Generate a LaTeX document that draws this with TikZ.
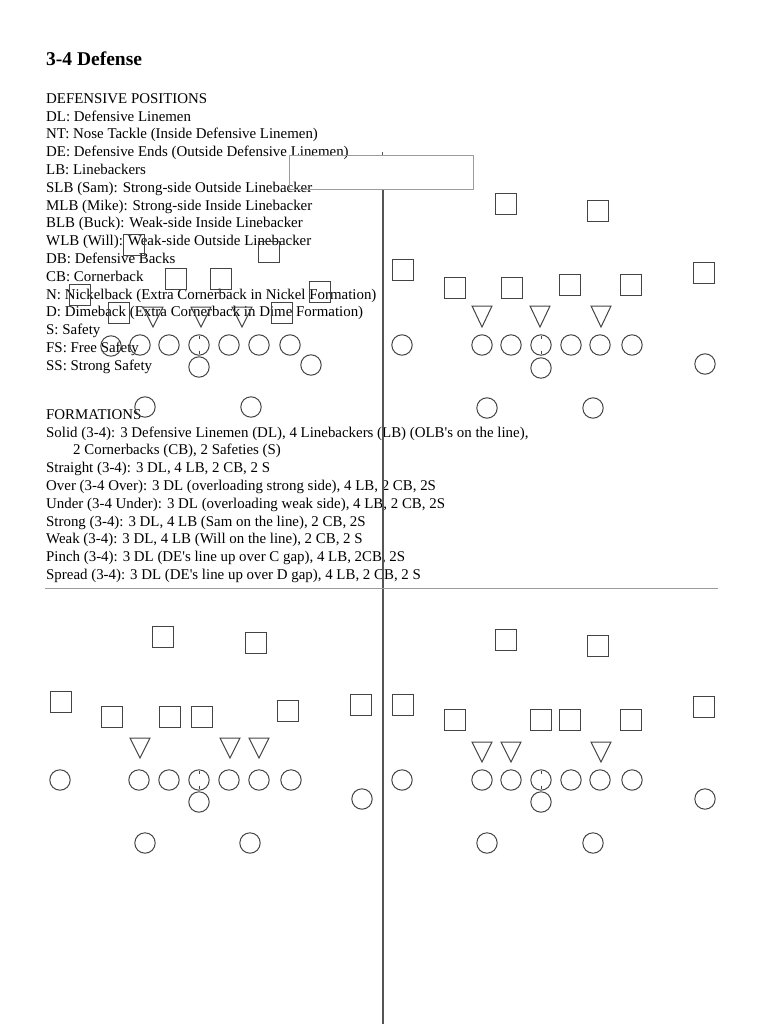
\documentclass[tikz,border=0pt]{standalone}
\usepackage{fontspec}
\setmainfont{Liberation Serif}
\usetikzlibrary{positioning}
\definecolor{ink}{HTML}{444444}
\definecolor{axis}{HTML}{555555}
\definecolor{hairline}{HTML}{9C9C9C}

\begin{document}
\begin{tikzpicture}[x=1pt,y=-1pt,font=\fontsize{14.9}{17.8}\selectfont,every node/.style={text=black,inner sep=0pt,anchor=base west},
  sqr/.style={draw=ink,line width=1pt},
  ring/.style={draw=ink,line width=1pt},
  tri/.style={draw=ink,line width=1pt,line join=miter},
  snap/.style={draw=ink,line width=.8pt}]
\useasboundingbox (0,0) rectangle (768,1024);
% Page text: heading, the list of positions and the list of formations.
\node[font=\fontsize{19.5}{22}\selectfont\bfseries] (title) at (46,66) {3-4 Defense};
\foreach \txt [count=\k from 0] in {DEFENSIVE POSITIONS,DL: Defensive Linemen,NT: Nose Tackle (Inside Defensive Linemen),DE: Defensive Ends (Outside Defensive Linemen),LB: Linebackers,SLB (Sam): Strong-side Outside Linebacker,MLB (Mike): Strong-side Inside Linebacker,BLB (Buck): Weak-side Inside Linebacker,WLB (Will): Weak-side Outside Linebacker,DB: Defensive Backs,CB: Cornerback,N: Nickelback (Extra Cornerback in Nickel Formation),D: Dimeback (Extra Cornerback in Dime Formation),S: Safety,FS: Free Safety,SS: Strong Safety}
  \node (pos\k) at (46,{103.3+17.8*\k}) {\txt};
\foreach \x/\txt [count=\k from 0] in {46/FORMATIONS,46/{Solid (3-4): 3 Defensive Linemen (DL), 4 Linebackers (LB) (OLB\textquotesingle s on the line),},73/{2 Cornerbacks (CB), 2 Safeties (S)},46/{Straight (3-4): 3 DL, 4 LB, 2 CB, 2 S},46/{Over (3-4 Over): 3 DL (overloading strong side), 4 LB, 2 CB, 2S},46/{Under (3-4 Under): 3 DL (overloading weak side), 4 LB, 2 CB, 2S},46/{Strong (3-4): 3 DL, 4 LB (Sam on the line), 2 CB, 2S},46/{Weak (3-4): 3 DL, 4 LB (Will on the line), 2 CB, 2 S},46/{Pinch (3-4): 3 DL (DE\textquotesingle s line up over C gap), 4 LB, 2CB, 2S},46/{Spread (3-4): 3 DL (DE\textquotesingle s line up over D gap), 4 LB, 2 CB, 2 S}}
  \node (form\k) at (\x,{419.3+17.8*\k}) {\txt};
% Dividers: vertical split, empty box at its top, horizontal rule.
\draw[axis,line width=1.8pt] (382.7,189.5) -- (382.7,1024);
\draw[axis,line width=1.5pt] (382.7,152.5) -- (382.7,155.5);
\draw[hairline,line width=1pt] (289,155.5) rectangle (473,189.5);
\draw[hairline,line width=1.3pt] (45,588.3) -- (718,588.3);
% Top left diagram
\foreach \x/\y in {134/245,269/252,176/279,221/279,80/295,320/292,119/313,282/313}
  \draw[sqr] (\x-10.5,\y-10.5) rectangle ++(21,21);
\foreach \x in {153,201,242}
  \draw[tri] (\x-10,307) -- (\x+10,307) -- (\x,327) -- cycle;
\foreach \x/\y in {111/346,140/345,169/345,199/345,229/345,259/345,290/345,199/367,311/365,145/407,251/407}
  \draw[ring] (\x,\y) circle[radius=10.2];
\draw[snap] (199,335.5) -- (199,338.5) (199,350.5) -- (199,353.5);
% Top right diagram
\foreach \x/\y in {506/204,598/211,403/270,455/288,512/288,570/285,631/285,704/273}
  \draw[sqr] (\x-10.5,\y-10.5) rectangle ++(21,21);
\foreach \x in {482,540,601}
  \draw[tri] (\x-10,306) -- (\x+10,306) -- (\x,327) -- cycle;
\foreach \x/\y in {402/345,482/345,511/345,541/345,571/345,600/345,632/345,541/368,705/364,487/408,593/408}
  \draw[ring] (\x,\y) circle[radius=10.2];
\draw[snap] (541,335.5) -- (541,338.5) (541,350.5) -- (541,353.5);
% Bottom left diagram
\foreach \x/\y in {163/637,256/643,61/702,112/717,170/717,202/717,288/711,361/705}
  \draw[sqr] (\x-10.5,\y-10.5) rectangle ++(21,21);
\foreach \x in {140,230,259}
  \draw[tri] (\x-10,738) -- (\x+10,738) -- (\x,758) -- cycle;
\foreach \x/\y in {60/780,139/780,169/780,199/780,229/780,259/780,291/780,199/802,362/799,145/843,250/843}
  \draw[ring] (\x,\y) circle[radius=10.2];
\draw[snap] (199,770.5) -- (199,773.5) (199,785.5) -- (199,788.5);
% Bottom right diagram
\foreach \x/\y in {506/640,598/646,403/705,455/720,541/720,570/720,631/720,704/707}
  \draw[sqr] (\x-10.5,\y-10.5) rectangle ++(21,21);
\foreach \x in {482,511,601}
  \draw[tri] (\x-10,742) -- (\x+10,742) -- (\x,762) -- cycle;
\foreach \x/\y in {402/780,482/780,511/780,541/780,571/780,600/780,632/780,541/802,705/799,487/843,593/843}
  \draw[ring] (\x,\y) circle[radius=10.2];
\draw[snap] (541,770.5) -- (541,773.5) (541,785.5) -- (541,788.5);
\end{tikzpicture}
\end{document}
